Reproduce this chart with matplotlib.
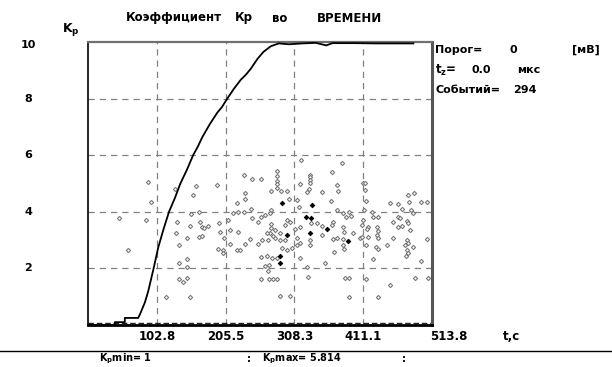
import matplotlib
matplotlib.use("Agg")
import matplotlib.pyplot as plt
import matplotlib.transforms as mtransforms

# ---- data -------------------------------------------------------------
curve_t = [0, 40, 40, 55, 55, 75, 78, 85, 90, 98, 105, 113, 121, 130, 138, 148,
           157, 164, 171, 182, 193, 200, 208, 218, 228, 236, 243, 253, 262, 273,
           285, 300, 320, 340, 356, 365, 400, 430, 460, 486]
curve_k = [0, 0, 0.1, 0.1, 0.25, 0.25, 0.4, 0.8, 1.2, 2.0, 2.75, 3.4, 4.0, 4.5,
           5.0, 5.5, 6.0, 6.3, 6.65, 7.1, 7.5, 7.7, 8.0, 8.35, 8.66, 8.85, 9.05,
           9.4, 9.65, 9.85, 9.95, 9.92, 9.95, 9.97, 9.88, 9.96, 9.96, 9.95, 9.95,
           9.95]

pts_t = [89.2, 93.7, 46.3, 86.2, 60.2, 130.0, 161.8, 156.4, 154.3, 165.4, 132.5,
         152.4, 166.9, 170.8, 173.3, 179.7, 131.0, 147.9, 165.4, 170.3, 136.0,
         147.5, 136.0, 147.5, 136.0, 142.4, 148.4, 116.1, 151.9,
         192.3, 233.5, 245.5, 258.5, 282.8, 282.8, 282.8, 282.8, 282.8, 273.4,
         287.9, 235.0, 235.0, 222.6, 296.9, 316.7, 318.2, 331.7, 331.7, 329.7,
         327.6, 300.7, 311.8, 314.8, 333.2, 331.7, 331.7,
         196.2, 209.6, 216.2, 223.6, 233.5, 243.5, 197.2, 203.6, 212.1, 201.2,
         194.7, 201.2, 212.1, 222.2, 227.1, 242.0, 234.6, 244.6, 254.4, 258.5,
         264.4, 273.4, 271.9, 258.5, 267.0, 274.5, 281.9, 258.5, 270.0, 276.8,
         282.8, 270.9, 269.4, 264.4, 286.8, 302.2, 279.4, 286.8, 273.0, 273.4,
         271.9, 267.0, 275.9, 279.4, 297.8, 301.8, 294.3, 309.3, 316.7, 311.8,
         304.3, 311.8, 316.7, 289.4, 296.9, 316.7, 327.6, 328.2, 224.5, 254.4,
         259.5, 269.4, 286.8, 294.3,
         379.9, 364.1, 331.7, 331.7, 371.6, 373.0, 349.1, 362.6, 411.3, 413.8,
         413.8, 415.3, 412.8, 451.2, 462.7, 469.6, 477.6, 487.0, 479.6, 482.1,
         486.0, 497.1, 506.0, 371.6, 381.4, 390.4, 385.5, 392.9, 423.8, 426.2,
         433.7, 341.7, 349.1, 366.5, 364.1, 381.4, 382.9, 396.4, 408.9, 411.3,
         418.8, 416.4, 432.2, 433.3, 456.1, 462.7, 466.1, 463.6, 468.7, 476.1,
         478.5, 481.1, 349.1, 365.6, 371.6, 381.4, 406.4, 408.9, 418.8, 431.3,
         433.7, 456.1, 476.1, 478.5, 474.0, 486.0, 506.0, 367.5, 381.4, 382.9,
         415.3, 430.3, 433.7, 446.3, 476.1, 477.6, 475.1, 354.1, 426.2, 497.1,
         384.0, 390.4, 415.3, 451.2, 488.5, 508.4, 389.9, 433.7]
pts_k = [5.06, 4.34, 3.78, 3.70, 2.65, 4.80, 4.91, 4.59, 3.92, 3.99, 3.64,
         3.50, 3.65, 3.47, 3.42, 3.49, 3.24, 3.06, 3.10, 3.14, 2.83,
         2.32, 2.20, 2.04, 1.64, 1.51, 1.65, 1.00, 1.00,
         4.95, 5.31, 5.15, 5.15, 5.45, 5.27, 5.09, 4.97, 4.85, 4.73,
         4.73, 4.65, 4.46, 4.32, 4.73, 4.97, 5.83, 5.30, 5.22, 4.81,
         4.71, 4.44, 4.42, 4.18, 3.61, 3.00, 2.83,
         3.59, 3.71, 3.95, 3.99, 3.99, 4.09, 3.30, 3.08, 3.36, 2.65,
         2.70, 2.53, 2.86, 2.65, 2.65, 3.03, 2.86, 3.77, 3.65, 3.83,
         3.88, 4.06, 3.97, 2.41, 2.44, 2.36, 2.36, 1.64, 1.64, 1.64,
         1.64, 2.12, 1.92, 2.08, 1.02, 1.02, 3.36, 3.24, 3.57, 3.42,
         3.26, 3.24, 3.14, 3.06, 3.71, 3.65, 3.53, 3.38, 3.45, 3.06,
         2.71, 2.83, 2.89, 2.71, 2.65, 2.36, 2.06, 1.71, 3.30, 2.85,
         3.00, 3.00, 3.00, 3.00,
         5.73, 5.42, 5.12, 5.01, 4.95, 4.73, 4.71, 4.38, 5.03, 5.03,
         4.77, 4.38, 4.06, 4.32, 4.27, 4.10, 4.59, 4.65, 4.36, 4.06,
         3.97, 4.34, 4.34, 4.06, 3.97, 4.00, 3.83, 3.85, 3.98, 3.83,
         3.83, 3.59, 3.50, 3.65, 3.53, 3.47, 3.30, 3.26, 3.53, 3.71,
         3.47, 3.38, 3.45, 3.32, 3.65, 3.83, 3.77, 3.47, 3.50, 3.69,
         3.59, 3.36, 3.18, 3.03, 3.06, 3.03, 3.06, 3.12, 3.10, 3.18,
         3.06, 3.06, 3.00, 2.89, 2.83, 2.77, 3.03, 2.59, 2.83, 2.67,
         2.83, 2.77, 2.67, 2.83, 2.65, 2.53, 2.44, 2.18, 2.32, 2.26,
         1.65, 1.65, 1.61, 1.41, 1.67, 1.65, 1.00, 1.00]

dark_t = [289.8, 334.2, 325.7, 333.2, 331.7, 286.8, 286.8, 296.9, 356.6, 388.9]
dark_k = [4.32, 4.23, 3.83, 3.77, 3.24, 2.44, 2.18, 3.18, 3.38, 2.97]

x_ticks = [102.8, 205.5, 308.3, 411.1]
x_last = 513.8
y_ticks = [2, 4, 6, 8, 10]

# ---- figure -----------------------------------------------------------
W, H = 612, 367
fig = plt.figure(figsize=(W / 100, H / 100), dpi=100)
fig.patch.set_facecolor("white")
L, R, T, B = 88, 432, 42, 325
ax = fig.add_axes([L / W, 1 - B / H, (R - L) / W, (B - T) / H])
ax.set_xlim(0, x_last)
ax.set_ylim(0, 10)
ax.set_xticks([])
ax.set_yticks([])

for xv in x_ticks:
    ax.axvline(xv, color="#808080", lw=0.9, ls=(0, (5, 4)), zorder=1)
for yv in y_ticks[:-1]:
    ax.axhline(yv, color="#808080", lw=0.9, ls=(0, (5, 4)), zorder=1)
ax.axhline(0.07, color="#222222", lw=1.0, ls=(0, (4, 2)), zorder=1)

ax.scatter(pts_t, pts_k, marker="D", s=4.5, facecolors="white",
           edgecolors="#7a7a7a", linewidths=0.8, zorder=2)
ax.scatter(dark_t, dark_k, marker="D", s=5.5, facecolors="black",
           edgecolors="black", linewidths=0.6, zorder=3)
ax.plot(curve_t, curve_k, color="black", lw=1.3, zorder=4)

ax.spines["left"].set_color("black")
ax.spines["left"].set_linewidth(1.2)
ax.spines["bottom"].set_color("black")
ax.spines["bottom"].set_linewidth(2.0)
ax.spines["top"].set_color("#707070")
ax.spines["top"].set_linewidth(1.6)
ax.spines["right"].set_color("#555555")
ax.spines["right"].set_linewidth(2.2)

bold = dict(fontweight="bold", family="DejaVu Sans", color="black")

# y tick labels (far left)
ytr = mtransforms.blended_transform_factory(fig.transFigure, ax.transData)
for yv in y_ticks:
    ax.text(28 / W, yv - (0.1 if yv == 10 else 0), str(yv), transform=ytr,
            ha="center", va="center", fontsize=8, **bold)

# x tick labels
xtr = mtransforms.blended_transform_factory(ax.transData, fig.transFigure)
for xv in x_ticks:
    ax.text(xv, 1 - 336 / H, f"{xv:.1f}", transform=xtr, ha="center",
            va="center", fontsize=8.5, **bold)
fig.text(430 / W, 1 - 336 / H, f"{x_last:.1f}", ha="left", va="center",
         fontsize=8.5, **bold)
fig.text(503 / W, 1 - 336 / H, "t,c", ha="left", va="center",
         fontsize=8.5, **bold)

# title pieces
ty = 1 - 18 / H
fig.text(126 / W, ty, "Коэффициент", ha="left", va="center", fontsize=8.5, **bold)
fig.text(235 / W, ty, "Кр", ha="left", va="center", fontsize=8.5, **bold)
fig.text(272 / W, ty, "во", ha="left", va="center", fontsize=8.5, **bold)
fig.text(317 / W, ty, "ВРЕМЕНИ", ha="left", va="center", fontsize=8.5, **bold)

# axis label Kp
fig.text(62 / W, 1 - 30 / H, r"K$_\mathbf{p}$", ha="left", va="center",
         fontsize=9, **bold)

# right side info
fig.text(435 / W, 1 - 50 / H, "Порог=", ha="left", va="center", fontsize=8, **bold)
fig.text(509 / W, 1 - 50 / H, "0", ha="left", va="center", fontsize=8, **bold)
fig.text(572 / W, 1 - 50 / H, "[мВ]", ha="left", va="center", fontsize=8, **bold)
fig.text(435 / W, 1 - 70 / H, r"t$_\mathbf{z}$=", ha="left", va="center",
         fontsize=8.5, **bold)
fig.text(472 / W, 1 - 70 / H, "0.0", ha="left", va="center", fontsize=8, **bold)
fig.text(517 / W, 1 - 70 / H, "мкс", ha="left", va="center", fontsize=8, **bold)
fig.text(435 / W, 1 - 90 / H, "Событий=", ha="left", va="center", fontsize=8, **bold)
fig.text(513 / W, 1 - 90 / H, "294", ha="left", va="center", fontsize=8, **bold)

# bottom separator and stats
fig.add_artist(plt.Line2D([0, 1], [1 - 351 / H, 1 - 351 / H],
                          transform=fig.transFigure, color="black", lw=1.0))
by = 1 - 359 / H
fig.text(99 / W, by, r"K$_\mathbf{p}$min= 1", ha="left", va="center",
         fontsize=7, **bold)
fig.text(247 / W, by, ":", ha="left", va="center", fontsize=7, **bold)
fig.text(262 / W, by, r"K$_\mathbf{p}$max= 5.814", ha="left", va="center",
         fontsize=7, **bold)
fig.text(402 / W, by, ":", ha="left", va="center", fontsize=7, **bold)

fig.savefig("out.png", dpi=100, facecolor="white")
